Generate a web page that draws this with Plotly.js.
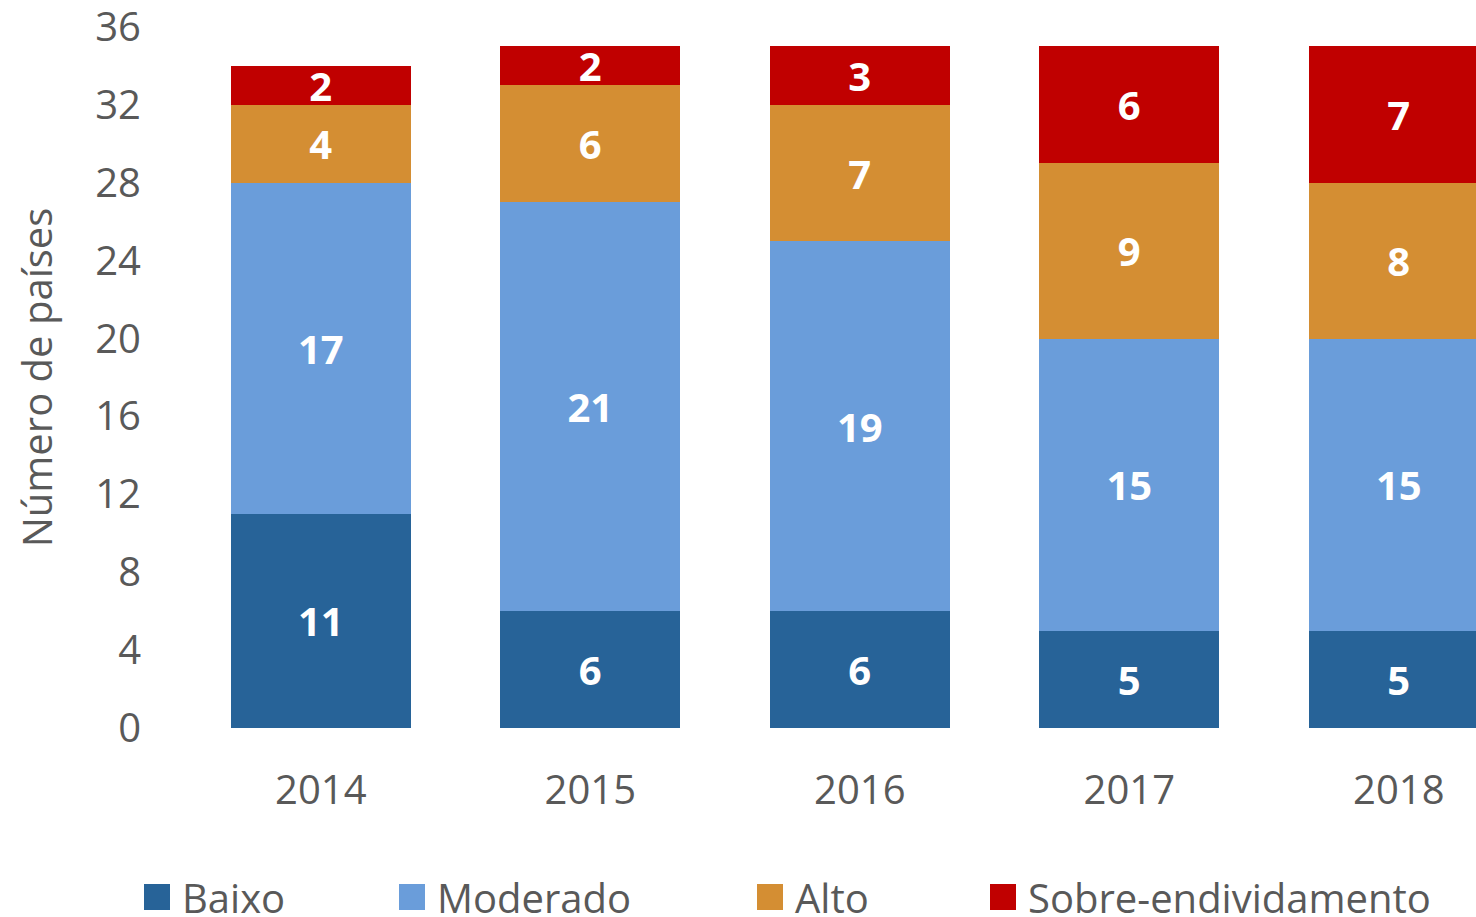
<!DOCTYPE html>
<html>
<head>
<meta charset="utf-8">
<script src="https://cdn.plot.ly/plotly-3.0.1.min.js"></script>
<style>
html, body { margin: 0; padding: 0; background: #ffffff; }
#chart { width: 1476px; height: 917px; }
</style>
</head>
<body>
<div id="chart"></div>
<script>
// ---- Data ----
const years = ['2014', '2015', '2016', '2017', '2018'];
const seriesNames = ['Baixo', 'Moderado', 'Alto', 'Sobre-endividamento'];
const baixo = [11, 6, 6, 5, 5];
const moderado = [17, 21, 19, 15, 15];
const alto = [4, 6, 7, 9, 8];
const sobreEndividamento = [2, 2, 3, 6, 7];
const yTickValues = [0, 4, 8, 12, 16, 20, 24, 28, 32, 36];
const yAxisTitle = 'Número de países';

// ---- Styles ----
const seriesValues = [baixo, moderado, alto, sobreEndividamento];
const seriesColors = ['#276398', '#6A9DDA', '#D48E33', '#C00000'];
const legendIds = ['legend', 'legend2', 'legend3', 'legend4'];
const legendPx = [142, 397, 755, 988];
const textGray = '#595959';
const fontFamily = '"Open Sans", "Noto Sans", sans-serif';

const W = 1476, H = 917;
const margin = { l: 186, r: 0, t: 27, b: 189, autoexpand: false };
const plotW = W - margin.l - margin.r;
const plotH = H - margin.t - margin.b;
const catStep = 269.5;
const xRange = [-0.5, -0.5 + plotW / catStep];

const traces = seriesNames.map((name, i) => ({
  type: 'bar',
  name: name,
  x: years,
  y: seriesValues[i],
  text: seriesValues[i].map(String),
  textposition: 'inside',
  insidetextanchor: 'middle',
  textangle: 0,
  constraintext: 'none',
  textfont: { family: fontFamily, size: 40, color: '#ffffff', weight: 'bold' },
  marker: { color: seriesColors[i], line: { width: 0 } },
  hoverinfo: 'x+y+name',
  legend: legendIds[i]
}));

const layout = {
  width: W,
  height: H,
  margin: margin,
  paper_bgcolor: '#ffffff',
  plot_bgcolor: '#ffffff',
  barmode: 'stack',
  bargap: 1 - 180 / catStep,
  font: { family: fontFamily, color: textGray, size: 40 },
  xaxis: {
    type: 'category',
    range: xRange,
    showgrid: false,
    zeroline: false,
    showline: false,
    ticks: '',
    ticklabelstandoff: 35,
    tickfont: { family: fontFamily, size: 40, color: textGray },
    automargin: false,
    fixedrange: true
  },
  yaxis: {
    range: [0, 36],
    tickvals: yTickValues,
    showgrid: false,
    zeroline: false,
    showline: false,
    ticks: '',
    ticklabelstandoff: 44,
    ticklabeloverflow: 'allow',
    tickfont: { family: fontFamily, size: 40, color: textGray },
    title: { text: yAxisTitle, font: { family: fontFamily, size: 40, color: textGray }, standoff: 30 },
    automargin: false,
    fixedrange: true
  },
  showlegend: true
};

legendIds.forEach((id, i) => {
  layout[id] = {
    orientation: 'h',
    x: (legendPx[i] - margin.l) / plotW,
    xanchor: 'left',
    y: -(897 - (margin.t + plotH)) / plotH,
    yanchor: 'middle',
    bgcolor: 'rgba(0,0,0,0)',
    borderwidth: 0,
    font: { family: fontFamily, size: 40, color: textGray },
    itemclick: false,
    itemdoubleclick: false
  };
});

function enlargeLegendSymbols(gd) {
  gd.querySelectorAll('.legendpoints path').forEach(p => {
    p.setAttribute('d', 'M8,13H-18V-13H8Z');
  });
}

const gd = document.getElementById('chart');
Plotly.newPlot(gd, traces, layout, { displayModeBar: false, staticPlot: true }).then(() => {
  enlargeLegendSymbols(gd);
  gd.on('plotly_afterplot', () => enlargeLegendSymbols(gd));
});
</script>
</body>
</html>
